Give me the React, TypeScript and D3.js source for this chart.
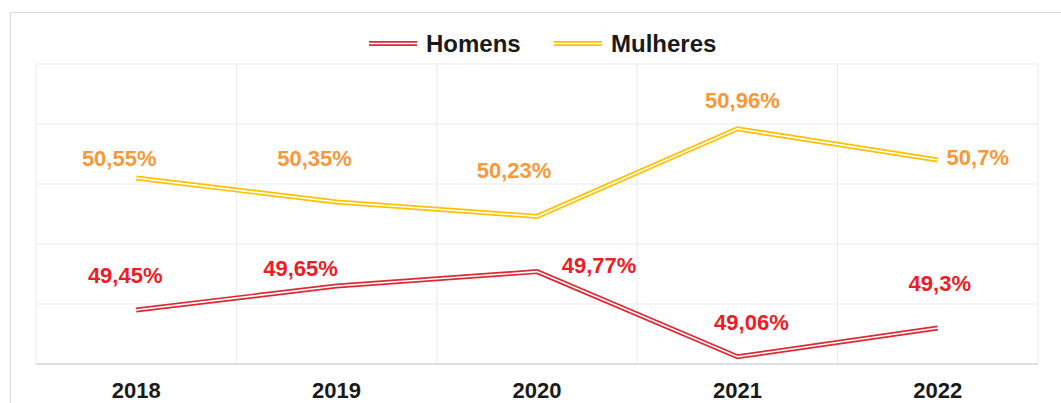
import React from 'react';
import * as d3 from 'd3';

const years = ['2018', '2019', '2020', '2021', '2022'];
const homens = [49.45, 49.65, 49.77, 49.06, 49.3];
const mulheres = [50.55, 50.35, 50.23, 50.96, 50.7];
const yTicks = [49, 49.5, 50, 50.5, 51, 51.5];

// where Excel left each data label, relative to its point (dx, dy of baseline)
const homensLabelNudge = [[-11, -27], [-36, -10], [62, 1], [14, -27], [2, -37]];
const mulheresLabelNudge = [[-17, -12], [-22, -36], [-23, -38], [5, -21], [40, 5]];

const W = 1061;
const H = 403;
const margin = { top: 64, right: 23, bottom: 39, left: 36 };

const fmt = (v: number) => String(v).replace('.', ',') + '%';

const series = [
  { name: 'Homens', values: homens, nudge: homensLabelNudge, line: '#dc2a35', label: '#ee1d25' },
  { name: 'Mulheres', values: mulheres, nudge: mulheresLabelNudge, line: '#ffc000', label: '#f5993b' },
];

const App = () => {
  const x = d3.scaleBand().domain(years).range([margin.left, W - margin.right]).padding(0);
  const y = d3.scaleLinear().domain([49, 51.5]).range([H - margin.bottom, margin.top]);
  const cx = (yr: string) => (x(yr) as number) + x.bandwidth() / 2;

  const lineGen = d3
    .line<number>()
    .x((_, i) => cx(years[i]))
    .y((d) => y(d));

  const font = '"Liberation Sans", Arial, sans-serif';

  return (
    <div style={{ position: 'absolute', left: 0, top: 0 }}>
      <svg width={W} height={H} style={{ display: 'block', background: '#fff' }} fontFamily={font}>
        <rect x={10.5} y={12.5} width={W + 20} height={H + 20} fill="#fff" stroke="#d9d9d9" />

        {/* gridlines */}
        {yTicks.slice(1).map((t) => (
          <line key={t} x1={margin.left} x2={W - margin.right} y1={y(t)} y2={y(t)} stroke="#ebebeb" />
        ))}
        {years.map((yr) => (
          <line key={yr} x1={x(yr)} x2={x(yr)} y1={margin.top} y2={H - margin.bottom} stroke="#ebebeb" />
        ))}
        <line
          x1={W - margin.right}
          x2={W - margin.right}
          y1={margin.top}
          y2={H - margin.bottom}
          stroke="#ebebeb"
        />
        <line
          x1={margin.left}
          x2={W - margin.right}
          y1={y(49)}
          y2={y(49)}
          stroke="#d4d4d4"
          strokeWidth={1.6}
        />

        {/* x axis labels */}
        {years.map((yr) => (
          <text key={yr} x={cx(yr)} y={398} textAnchor="middle" fontSize={22} fontWeight="bold" fill="#1a1a1a">
            {yr}
          </text>
        ))}

        {/* double lines */}
        {series.map((s) => (
          <g key={s.name} fill="none" strokeLinejoin="miter">
            <path d={lineGen(s.values) || ''} stroke={s.line} strokeWidth={5} />
            <path d={lineGen(s.values) || ''} stroke="#fff" strokeWidth={1.6} />
          </g>
        ))}

        {/* data labels */}
        {series.map((s) =>
          s.values.map((v, i) => (
            <text
              key={s.name + i}
              x={cx(years[i]) + s.nudge[i][0]}
              y={y(v) + s.nudge[i][1]}
              textAnchor="middle"
              fontSize={22}
              fontWeight="bold"
              fill={s.label}
            >
              {fmt(v)}
            </text>
          ))
        )}

        {/* legend */}
        {series.map((s, i) => {
          const lx = i === 0 ? 369 : 554;
          return (
            <g key={s.name}>
              <line x1={lx} x2={lx + 48} y1={43.5} y2={43.5} stroke={s.line} strokeWidth={5} />
              <line x1={lx} x2={lx + 48} y1={43.5} y2={43.5} stroke="#fff" strokeWidth={1.6} />
              <text x={lx + 57} y={52} fontSize={24} fontWeight="bold" fill="#1a1a1a">
                {s.name}
              </text>
            </g>
          );
        })}
      </svg>
    </div>
  );
};

export default App;
